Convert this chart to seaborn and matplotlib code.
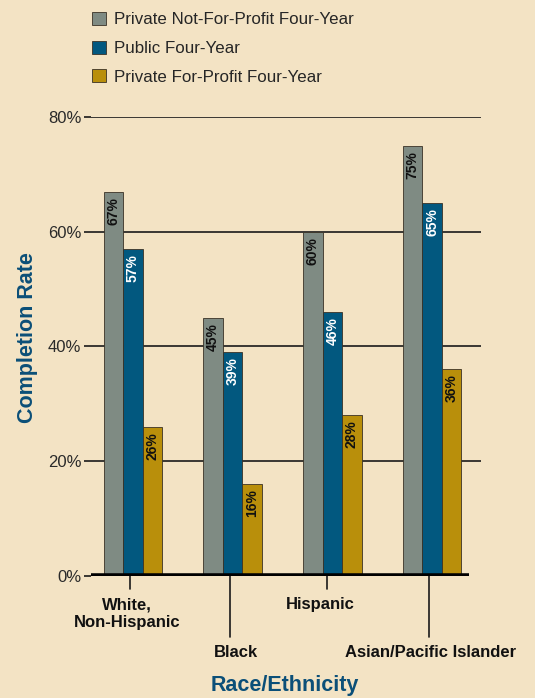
import matplotlib
matplotlib.use("Agg")
import matplotlib.pyplot as plt
import numpy as np
import pandas as pd
import seaborn as sns

groups = ["White,\nNon-Hispanic", "Black", "Hispanic", "Asian/Pacific Islander"]
sectors = ["Private Not-For-Profit Four-Year", "Public Four-Year", "Private For-Profit Four-Year"]
not_for_profit = [67, 45, 60, 75]
public = [57, 39, 46, 65]
for_profit = [26, 16, 28, 36]

bg = "#F3E3C4"
colors = ["#7F8B83", "#02587F", "#B98F0B"]
text_colors = ["#111111", "white", "#111111"]
blue_title = "#0B4F78"

rows = []
for s, vals in zip(sectors, [not_for_profit, public, for_profit]):
    for g, v in zip(groups, vals):
        rows.append({"group": g, "sector": s, "rate": v})
data = pd.DataFrame(rows)

sns.set_style("white")
plt.rcParams["font.family"] = ["Liberation Sans", "DejaVu Sans"]

fig = plt.figure(figsize=(5.35, 6.98), dpi=100, facecolor=bg)
ax = fig.add_axes([0.170, 0.1748, 0.729, 0.6576])
ax.set_facecolor(bg)

for y in [20, 40, 60, 80]:
    ax.axhline(y, color="#1a1a1a", lw=1.2, zorder=0)

sns.barplot(data=data, x="group", y="rate", hue="sector", order=groups,
            hue_order=sectors, palette=colors, width=0.585, saturation=1,
            edgecolor="#3a3226", linewidth=0.6, ax=ax, zorder=2)

# value labels inside the bars
for cont, tc in zip(ax.containers, text_colors):
    for bar in cont:
        h = bar.get_height()
        ax.text(bar.get_x() + bar.get_width() / 2, h - 0.9, f"{h:.0f}%",
                rotation=90, ha="center", va="top", fontsize=10,
                fontweight="bold", color=tc, zorder=3)

ax.set_ylim(0, 80)
ax.set_xlim(-0.42, 3.49)
ax.axhline(0, xmax=0.97, color="black", lw=4, zorder=4, solid_capstyle="butt")

ax.set_yticks([0, 20, 40, 60, 80])
ax.set_yticklabels(["0%", "20%", "40%", "60%", "80%"], fontsize=12, color="#2a2a2a")
ax.tick_params(axis="y", length=5, width=1.2, color="#1a1a1a", pad=2, left=True)
ax.set_xticks([])
for sp in ax.spines.values():
    sp.set_visible(False)

ax.set_xlabel("")
ax.set_ylabel("Completion Rate", fontsize=15.5, fontweight="bold", color=blue_title)
ax.yaxis.set_label_coords(-0.137, 0.52)

# staggered category labels with leader ticks
tr = ax.get_xaxis_transform()
tick_x = [-0.03, 0.97, 1.95, 2.97]
tick_len = [0.028, 0.133, 0.028, 0.133]
label_y = [-0.082, -0.166, -0.063, -0.166]
label_x = [-0.06, 1.03, 1.88, 2.98]
for i, g in enumerate(groups):
    ax.plot([tick_x[i], tick_x[i]], [0, -tick_len[i]], transform=tr, color="#1a1a1a",
            lw=1.2, clip_on=False)
    ax.text(label_x[i], label_y[i], g, transform=tr, ha="center", va="center",
            fontsize=12, fontweight="bold", color="#111111", linespacing=1.15)

fig.text(0.533, 0.018, "Race/Ethnicity", ha="center", va="center",
         fontsize=15.5, fontweight="bold", color=blue_title)

handles, labels = ax.get_legend_handles_labels()
ax.legend(handles, labels, loc="upper left", bbox_to_anchor=(92 / 535, 1 - 12 / 698),
          bbox_transform=fig.transFigure, frameon=False, fontsize=12.2,
          handlelength=0.8, handleheight=0.8, handletextpad=0.5,
          labelspacing=0.78, borderpad=0, borderaxespad=0)

fig.savefig("out.png", dpi=100, facecolor=bg)
